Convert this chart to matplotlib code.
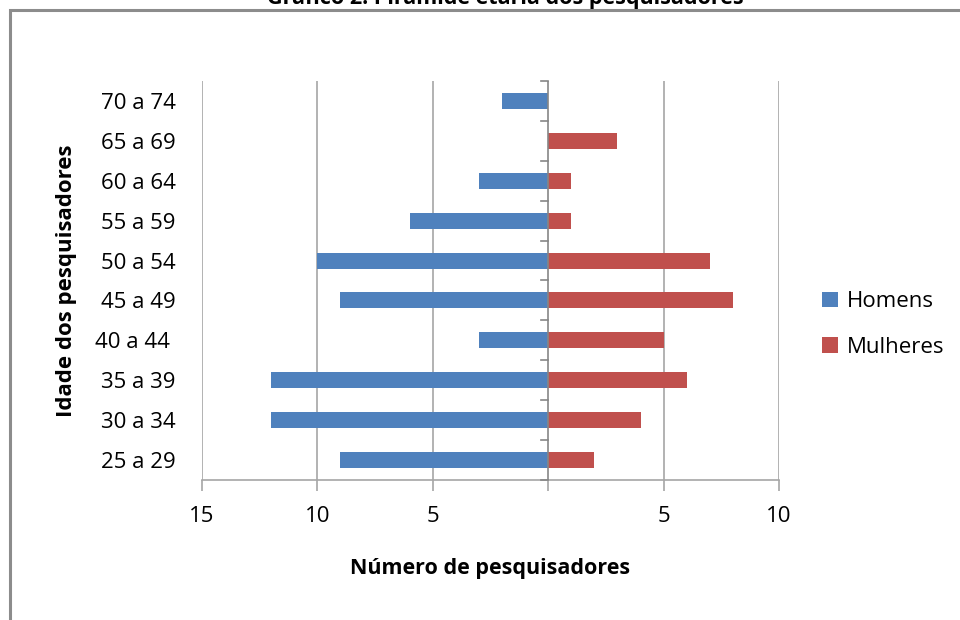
import numpy as np
import matplotlib.pyplot as plt
from matplotlib.patches import Rectangle

plt.rcParams['font.family'] = ['Open Sans', 'DejaVu Sans']

# faixas etárias (de baixo para cima)
faixas = ["25 a 29", "30 a 34", "35 a 39", "40 a 44 ", "45 a 49",
          "50 a 54", "55 a 59", "60 a 64", "65 a 69", "70 a 74"]
homens = [9, 12, 12, 3, 9, 10, 6, 3, 0, 2]
mulheres = [2, 4, 6, 5, 8, 7, 1, 1, 3, 0]

xticks = [-15, -10, -5, 0, 5, 10]
xticklabels = ["15", "10", "5", "", "5", "10"]

azul = "#4f81bd"
vermelho = "#c0504d"
cinza = "#a6a6a6"

fig = plt.figure(figsize=(9.6, 6.2), dpi=100)
ax = fig.add_axes([0.2104, 0.2258, 0.6011, 0.6436])

y = np.arange(len(faixas))
ax.barh(y, -np.array(homens), height=0.4, color=azul, label="Homens", zorder=3)
ax.barh(y, mulheres, height=0.4, color=vermelho, label="Mulheres", zorder=3)

ax.set_xlim(-15, 10)
ax.set_ylim(-0.5, len(faixas) - 0.5)
ax.set_xticks(xticks)
ax.set_xticklabels(xticklabels, fontsize=16)
for v in xticks:
    if v != 0:
        ax.axvline(v, color=cinza, lw=1.2, zorder=1)

# eixo vertical no zero com marcas entre as faixas
ax.axvline(0, color="#868686", lw=1.2, zorder=4)
for b in np.arange(-0.5, len(faixas), 1.0):
    ax.plot([-0.3, 0], [b, b], color="#868686", lw=1.2, zorder=4, clip_on=False)

ax.set_yticks(y)
ax.set_yticklabels(faixas, fontsize=16)
ax.tick_params(axis="y", length=0, pad=19)
ax.tick_params(axis="x", length=8, width=1.2, color=cinza, pad=11)

for s in ["top", "right", "left"]:
    ax.spines[s].set_visible(False)
ax.spines["bottom"].set_color(cinza)
ax.spines["bottom"].set_linewidth(1.2)

ax.set_xlabel("Número de pesquisadores", fontsize=15.5, fontweight="bold", labelpad=22)
ax.set_ylabel("Idade dos pesquisadores", fontsize=16, fontweight="bold", labelpad=13)

ax.legend(loc="center left", bbox_to_anchor=(1.04, 0.39), frameon=False,
          fontsize=16, handlelength=0.7, handleheight=0.7, handletextpad=0.4,
          labelspacing=1.1)

fig.text(0.526, 1.003, "Gráfico 2. Pirâmide etária dos pesquisadores",
         ha="center", va="center", fontsize=15.5, fontweight="bold")

fig.patches.append(Rectangle((10 / 960, -0.5), 2.0, 1.5 - 10 / 620,
                             transform=fig.transFigure, fill=False,
                             edgecolor="#8c8c8c", lw=2.2, clip_on=False))

fig.savefig("out.png", dpi=100)
